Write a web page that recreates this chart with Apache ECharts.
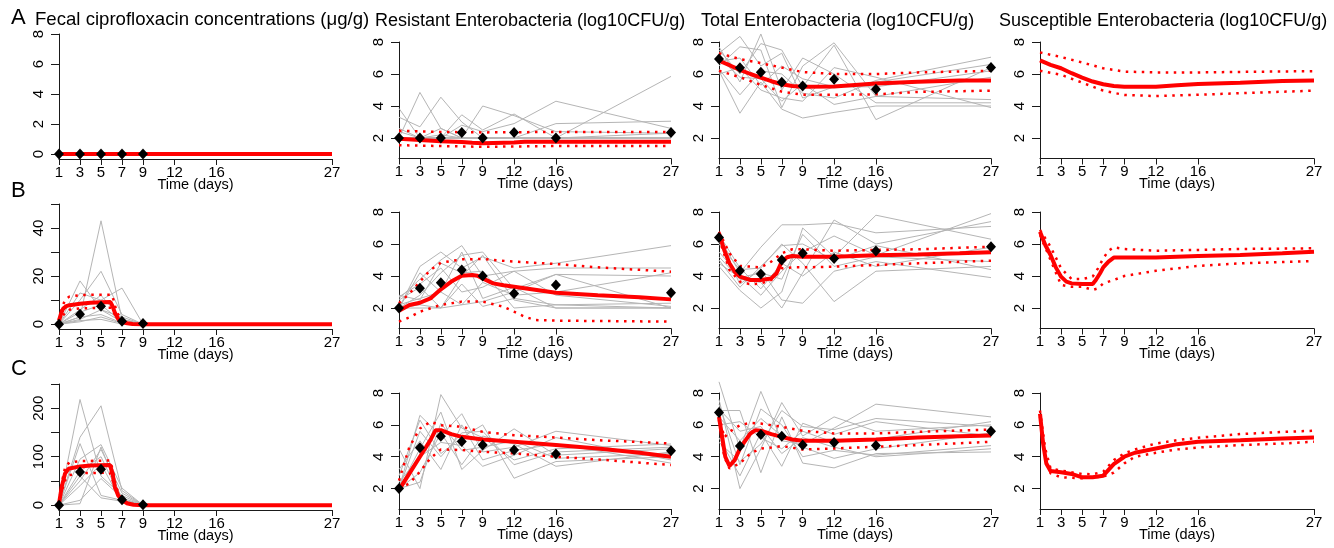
<!DOCTYPE html>
<html>
<head>
<meta charset="utf-8">
<script src="https://cdn.jsdelivr.net/npm/echarts@6/dist/echarts.min.js"></script>
<style>
html, body { margin: 0; padding: 0; background: #fff; }
#chart { width: 1334px; height: 548px; }
</style>
</head>
<body>
<div id="chart"></div>
<script>
// observation days
var dayObs = [1, 3, 5, 7, 9, 12, 16, 27];
var dayConc = [1, 3, 5, 7, 9];
var xTicks = [1, 3, 5, 7, 9, 12, 16, 27];

// y ticks / labels
var yTicksLog = [2, 4, 6, 8];
var yTicksConcA = [0, 2, 4, 6, 8];
var yTicksConcB = [0, 10, 20, 30, 40, 50];
var yLabelsConcB = [0, 20, 40];
var yTicksConcC = [0, 50, 100, 150, 200, 250];
var yLabelsConcC = [0, 100, 200];

// ---- row A ----
var concA_indiv = [
  [0, 0, 0, 0, 0], [0, 0, 0, 0, 0], [0, 0, 0, 0, 0], [0, 0, 0, 0, 0], [0, 0, 0, 0, 0],
  [0, 0, 0, 0, 0], [0, 0, 0, 0, 0], [0, 0, 0, 0, 0], [0, 0, 0, 0, 0], [0, 0, 0, 0, 0]
];
var concA_mean = [0, 0, 0, 0, 0];
var concA_pred = [[1, 0], [27, 0]];
var concA_up = [[1, 0], [27, 0]];
var concA_lo = [[1, 0], [27, 0]];

var resA_indiv = [
  [3.85, 2.0, 2.0, 2.0, 2.0, 2.0, 2.0, 2.0],
  [2.0, 4.85, 2.6, 2.0, 2.0, 2.0, 2.0, 2.0],
  [3.3, 2.7, 4.55, 3.0, 2.0, 2.0, 2.0, 2.0],
  [2.6, 2.0, 2.0, 3.45, 2.5, 3.5, 2.0, 2.3],
  [2.0, 2.0, 2.6, 2.0, 4.0, 3.4, 2.4, 2.3],
  [2.0, 2.0, 2.0, 2.8, 2.4, 2.9, 4.3, 2.6],
  [2.0, 2.0, 2.0, 2.0, 2.0, 2.0, 2.0, 5.85],
  [2.0, 2.0, 2.2, 2.0, 2.0, 2.0, 2.9, 3.05],
  [2.0, 2.0, 2.0, 2.0, 2.0, 2.0, 2.0, 2.0],
  [2.4, 2.0, 2.0, 2.0, 2.0, 2.0, 2.0, 2.0]
];
var resA_mean = [2.0, 2.0, 2.0, 2.35, 2.0, 2.35, 2.0, 2.35];
var resA_pred = [[1, 1.95], [3, 1.88], [5, 1.8], [7, 1.75], [8, 1.7], [9, 1.68], [12, 1.72], [13, 1.76], [27, 1.77]];
var resA_up = [[1, 2.45], [5, 2.38], [9, 2.35], [16, 2.38], [27, 2.38]];
var resA_lo = [[1, 1.55], [5, 1.5], [9, 1.45], [16, 1.5], [27, 1.5]];

var totA_indiv = [
  [7.3, 8.35, 6.5, 7.3, 4.5, 5.2, 5.5, 6.6],
  [6.2, 3.55, 5.5, 3.8, 3.25, 3.6, 4.0, 4.0],
  [7.7, 5.5, 8.5, 5.0, 7.0, 6.0, 4.2, 4.2],
  [6.5, 7.7, 7.5, 3.9, 6.5, 7.95, 4.6, 5.8],
  [7.5, 6.0, 7.9, 7.5, 5.2, 7.8, 3.15, 6.4],
  [6.3, 4.7, 6.2, 6.0, 4.8, 4.5, 5.6, 7.05],
  [6.8, 7.0, 5.3, 6.5, 5.7, 5.2, 5.2, 6.2],
  [7.0, 5.8, 5.7, 4.3, 5.4, 4.1, 4.6, 4.4],
  [6.0, 6.4, 5.0, 4.5, 4.3, 6.4, 5.8, 3.9]
];
var totA_mean = [6.93, 6.39, 6.11, 5.48, 5.25, 5.67, 5.04, 6.41];
var totA_pred = [[1, 6.83], [2, 6.55], [3, 6.26], [4, 6.0], [5, 5.78], [6, 5.55], [7, 5.36], [8, 5.25], [9, 5.2], [12, 5.22], [16, 5.4], [20, 5.52], [24, 5.6], [27, 5.6]];
var totA_up = [[1, 7.3], [3, 6.93], [5, 6.68], [7, 6.4], [9, 6.12], [12, 6.0], [16, 6.0], [20, 6.1], [27, 6.2]];
var totA_lo = [[1, 6.2], [3, 5.8], [5, 5.32], [7, 4.9], [9, 4.7], [12, 4.7], [16, 4.73], [20, 4.88], [27, 4.96]];

var susA_pred = [[1, 6.85], [2, 6.57], [3, 6.36], [4, 6.05], [5, 5.78], [6, 5.53], [7, 5.36], [8, 5.25], [9, 5.2], [12, 5.2], [14, 5.3], [16, 5.38], [20, 5.46], [24, 5.57], [27, 5.59]];
var susA_up = [[1, 7.35], [3, 7.06], [5, 6.72], [7, 6.36], [9, 6.15], [12, 6.1], [16, 6.1], [20, 6.13], [27, 6.18]];
var susA_lo = [[1, 6.2], [3, 5.95], [5, 5.46], [7, 4.96], [9, 4.69], [12, 4.62], [16, 4.7], [20, 4.8], [27, 4.96]];

// ---- row B ----
var concB_indiv = [
  [0, 3, 43, 2, 0],
  [0, 10, 22, 4, 0],
  [0, 18, 6, 3, 0],
  [0, 13, 10, 15, 0],
  [0, 5, 8, 1, 0],
  [0, 2, 6, 1, 0],
  [0, 3, 4, 0.5, 0],
  [0, 1, 3, 0.3, 0],
  [0, 6, 12, 2, 0],
  [0, 1.5, 2, 0, 0]
];
var concB_mean = [0, 4.15, 7.5, 1.25, 0.3];
var concB_pred = [[1, 1.5], [1.2, 4.5], [1.4, 6.5], [1.7, 7.5], [2, 7.9], [3, 8.5], [4, 8.9], [5, 9.1], [5.9, 9.2], [6.1, 7.5], [6.3, 5], [6.6, 2.4], [7, 1.0], [7.5, 0.4], [8, 0.1], [9, 0], [27, 0]];
var concB_up = [[1, 2], [1.3, 7], [1.6, 10.4], [2, 11.5], [3, 12.1], [5, 12.3], [6, 12.3], [6.2, 10], [6.5, 5], [7, 1.8], [7.5, 0.6], [8, 0.2], [9, 0], [27, 0]];
var concB_lo = [[1, 0.8], [1.3, 3], [1.6, 5], [2, 6], [3, 6.6], [5, 6.8], [6, 6.8], [6.2, 5.2], [6.5, 2.2], [7, 0.7], [7.5, 0.2], [8, 0], [27, 0]];

var resB_indiv = [
  [2.0, 4.6, 5.5, 4.5, 5.2, 4.5, 4.8, 5.9],
  [2.6, 3.8, 5.0, 5.9, 4.0, 4.3, 4.5, 4.5],
  [2.0, 2.8, 4.2, 5.3, 5.5, 3.2, 4.1, 2.0],
  [2.5, 3.3, 2.0, 3.5, 2.1, 2.6, 2.2, 2.0],
  [2.0, 4.2, 3.0, 2.2, 2.4, 3.0, 4.1, 4.0],
  [2.8, 2.5, 4.8, 4.2, 4.3, 2.0, 2.2, 2.3],
  [2.0, 2.2, 2.0, 4.0, 5.3, 2.5, 2.0, 2.0],
  [2.7, 3.5, 4.5, 3.0, 3.3, 4.3, 2.8, 2.1],
  [2.0, 2.0, 2.0, 2.2, 3.6, 2.8, 3.0, 4.2],
  [2.2, 2.6, 3.0, 5.5, 2.6, 3.3, 2.0, 2.0]
];
var resB_mean = [2.0, 3.23, 3.58, 4.38, 4.0, 2.9, 3.44, 2.96];
var resB_pred = [[1, 1.83], [2, 2.19], [3, 2.33], [4, 2.6], [5, 3.17], [6, 3.65], [7, 4.02], [8, 4.06], [8.5, 4.02], [9, 3.85], [10, 3.54], [11, 3.42], [12, 3.33], [16, 2.96], [20, 2.8], [24, 2.67], [27, 2.54]];
var resB_up = [[1, 2.3], [2, 2.9], [3, 3.65], [4, 4.38], [5, 4.83], [7, 5.04], [9, 5.06], [10, 5.0], [12, 4.9], [16, 4.75], [20, 4.54], [27, 4.27]];
var resB_lo = [[1, 1.15], [2, 1.42], [3, 1.77], [5, 2.19], [7, 2.4], [9, 2.4], [11, 2.08], [12, 1.77], [13, 1.46], [14, 1.25], [16, 1.21], [27, 1.15]];

var totB_indiv = [
  [6.4, 4.2, 5.8, 7.2, 7.2, 7.3, 6.7, 7.1],
  [5.2, 3.8, 3.6, 2.0, 4.2, 7.5, 6.0, 7.4],
  [4.6, 3.1, 2.0, 3.0, 7.0, 5.2, 7.8, 6.3],
  [6.0, 4.4, 4.5, 6.0, 4.8, 2.4, 4.3, 4.6],
  [5.5, 4.0, 2.8, 4.3, 5.5, 6.5, 5.3, 7.9],
  [6.2, 3.5, 4.4, 2.5, 2.3, 4.3, 4.9, 3.9],
  [5.0, 3.3, 4.6, 5.9, 6.0, 5.0, 5.9, 4.4],
  [6.6, 4.5, 3.2, 4.8, 4.0, 5.5, 4.6, 5.8],
  [4.8, 3.9, 4.2, 3.8, 6.6, 4.6, 5.2, 4.9]
];
var totB_mean = [6.4, 4.33, 4.13, 5.0, 5.42, 5.1, 5.56, 5.83];
var totB_pred = [[1, 6.67], [1.5, 5.63], [2, 4.8], [2.5, 4.27], [3, 3.96], [4, 3.75], [5, 3.75], [6, 3.85], [6.5, 4.17], [7, 4.9], [7.5, 5.17], [8, 5.25], [9, 5.21], [12, 5.21], [16, 5.29], [20, 5.35], [24, 5.42], [27, 5.48]];
var totB_up = [[1, 6.77], [2, 5.42], [3, 4.63], [5, 4.54], [6, 4.9], [7, 5.42], [8, 5.67], [9, 5.67], [12, 5.58], [16, 5.63], [20, 5.67], [27, 5.83]];
var totB_lo = [[1, 6.35], [2, 4.38], [3, 3.65], [4, 3.48], [5, 3.54], [6, 3.75], [7, 4.48], [8, 4.54], [9, 4.54], [12, 4.58], [16, 4.69], [20, 4.79], [27, 4.96]];

var susB_pred = [[1, 6.77], [1.5, 5.94], [2, 5.31], [2.5, 4.54], [3, 3.96], [3.5, 3.65], [4, 3.54], [5, 3.5], [6, 3.5], [6.3, 3.75], [6.7, 4.17], [7, 4.54], [7.5, 4.9], [8, 5.15], [9, 5.15], [12, 5.15], [14, 5.21], [16, 5.25], [20, 5.31], [24, 5.42], [27, 5.52]];
var susB_up = [[1, 6.88], [2, 5.83], [3, 4.48], [4, 3.81], [5, 3.81], [6, 3.96], [6.5, 4.48], [7, 5.1], [7.5, 5.58], [8, 5.79], [9, 5.69], [12, 5.58], [16, 5.63], [20, 5.69], [27, 5.73]];
var susB_lo = [[1, 6.56], [2, 5.0], [3, 3.44], [4, 3.33], [5, 3.33], [6, 3.13], [6.5, 3.23], [7, 3.54], [8, 3.75], [9, 4.0], [12, 4.33], [16, 4.63], [20, 4.79], [27, 4.94]];

// ---- row C ----
var concC_indiv = [
  [0, 218, 60, 20, 0],
  [0, 140, 205, 30, 0],
  [0, 127, 20, 10, 0],
  [0, 95, 125, 35, 0],
  [0, 50, 115, 25, 0],
  [0, 10, 55, 15, 0],
  [0, 70, 100, 10, 0],
  [0, 3, 120, 12, 0],
  [0, 40, 85, 5, 0],
  [0, 60, 15, 8, 0]
];
var concC_mean = [0, 68.5, 74, 11, 1];
var concC_pred = [[1, 3], [1.25, 37], [1.57, 65], [1.9, 75], [3, 80], [4, 82], [5.85, 83], [6.1, 65], [6.33, 37], [6.64, 20], [7, 11], [7.45, 4], [8.1, 0.7], [9, 0], [27, 0]];
var concC_up = [[1, 5], [1.25, 45], [1.6, 80], [2, 88], [3, 91], [5.85, 92], [6.1, 75], [6.4, 40], [6.8, 18], [7.2, 8], [8, 1], [9, 0], [27, 0]];
var concC_lo = [[1, 1], [1.25, 28], [1.6, 52], [2, 62], [3, 66], [5.85, 67], [6.1, 52], [6.4, 28], [6.8, 12], [7.2, 5], [8, 0.3], [9, 0], [27, 0]];

var resC_indiv = [
  [2.0, 6.6, 5.3, 6.7, 4.3, 4.6, 5.6, 4.7],
  [4.5, 2.0, 7.9, 5.8, 5.2, 3.8, 4.5, 4.8],
  [2.0, 4.5, 6.8, 3.2, 4.4, 5.75, 4.1, 4.5],
  [2.8, 6.3, 4.2, 5.2, 6.0, 2.65, 3.7, 4.0],
  [2.0, 3.0, 5.5, 3.5, 5.3, 4.8, 3.4, 4.3],
  [3.2, 5.0, 3.2, 6.0, 3.8, 4.4, 4.8, 3.6],
  [2.0, 2.4, 6.1, 4.4, 4.6, 5.0, 3.9, 4.2],
  [2.4, 4.0, 4.9, 4.7, 3.4, 4.1, 5.2, 3.8],
  [2.0, 5.6, 4.0, 5.5, 5.6, 3.5, 4.3, 4.6]
];
var resC_mean = [2.0, 4.56, 5.29, 4.96, 4.73, 4.42, 4.17, 4.38];
var resC_pred = [[1, 1.92], [2, 2.96], [3, 4.0], [4, 5.04], [4.5, 5.67], [5, 5.67], [6, 5.42], [7, 5.25], [9, 5.08], [12, 4.94], [16, 4.73], [20, 4.52], [24, 4.25], [27, 4.0]];
var resC_up = [[1, 2.5], [2, 4.63], [3, 5.77], [4, 6.19], [5, 5.98], [7, 5.88], [9, 5.56], [12, 5.35], [16, 5.21], [20, 5.04], [27, 4.83]];
var resC_lo = [[1, 2.0], [2, 2.33], [3, 3.06], [4, 3.9], [5, 4.46], [7, 4.42], [9, 4.31], [12, 4.21], [16, 4.0], [20, 3.83], [27, 3.48]];

var totC_indiv = [
  [8.7, 4.5, 8.1, 5.0, 4.8, 5.8, 7.3, 6.5],
  [7.6, 2.0, 4.5, 7.4, 5.3, 6.5, 5.6, 6.0],
  [6.9, 6.9, 3.0, 6.5, 3.6, 3.3, 4.2, 4.3],
  [5.2, 2.8, 5.5, 3.4, 6.1, 5.4, 6.2, 5.3],
  [7.3, 3.5, 7.0, 6.0, 4.0, 4.4, 4.1, 4.7],
  [6.0, 6.2, 5.2, 4.5, 5.6, 4.9, 5.1, 6.2],
  [6.5, 5.0, 6.4, 5.3, 4.6, 3.9, 4.5, 5.5],
  [4.9, 3.7, 4.8, 6.9, 5.9, 5.7, 6.4, 5.9],
  [7.0, 5.6, 5.9, 4.2, 5.2, 4.6, 4.0, 4.5]
];
var totC_mean = [6.77, 4.67, 5.4, 5.29, 4.73, 4.9, 4.71, 5.6];
var totC_pred = [[1, 6.5], [1.3, 5.25], [1.6, 4.0], [2, 3.42], [2.5, 3.79], [3, 4.52], [4, 5.46], [4.5, 5.67], [5, 5.63], [6, 5.42], [7, 5.25], [8, 5.08], [9, 5.0], [12, 5.0], [16, 5.08], [20, 5.21], [24, 5.29], [27, 5.33]];
var totC_up = [[1, 6.6], [1.5, 5.2], [2, 5.56], [3, 5.98], [4, 6.13], [5, 6.08], [6, 5.98], [7, 5.88], [9, 5.63], [12, 5.46], [16, 5.46], [20, 5.56], [27, 5.71]];
var totC_lo = [[1, 6.3], [1.5, 4.0], [2, 3.27], [3, 3.58], [4, 4.21], [5, 4.52], [6, 4.58], [7, 4.67], [9, 4.46], [12, 4.52], [16, 4.63], [20, 4.73], [27, 4.94]];

var susC_pred = [[1, 6.7], [1.3, 4.8], [1.6, 3.58], [2, 3.1], [3, 3.02], [4, 2.92], [5, 2.71], [6, 2.71], [7, 2.81], [8, 3.54], [9, 4.0], [10, 4.25], [12, 4.52], [14, 4.79], [16, 4.94], [20, 5.04], [24, 5.15], [27, 5.21]];
var susC_up = [[1, 6.9], [1.5, 4.5], [2, 3.27], [3, 3.13], [5, 2.92], [6, 2.9], [7, 3.06], [8, 3.79], [9, 4.21], [10, 4.46], [12, 4.83], [14, 5.04], [16, 5.19], [20, 5.42], [24, 5.56], [27, 5.63]];
var susC_lo = [[1, 6.5], [1.5, 4.0], [2, 2.96], [3, 2.71], [5, 2.65], [6, 2.71], [7, 2.75], [8, 3.0], [9, 3.58], [10, 4.0], [12, 4.25], [14, 4.46], [16, 4.58], [20, 4.73], [24, 4.83], [27, 4.94]];

var headers = [
  'Fecal ciprofloxacin concentrations (\u03bcg/g)',
  'Resistant Enterobacteria (log10CFU/g)',
  'Total Enterobacteria (log10CFU/g)',
  'Susceptible Enterobacteria (log10CFU/g)'
];
var rowLetters = ['A', 'B', 'C'];

// layout (pixels)
var colLeft = [59, 399, 719, 1040];
var colWidth = [273, 272, 272, 274];
var concTop = [34, 204, 384], concHeight = [125, 125, 126];
var logTop = [42, 212, 393], logHeight = [116.5, 116.5, 116];

var panels = [
  { r: 0, c: 0, min: -0.33, max: 8, ticks: yTicksConcA, labels: yTicksConcA, days: dayConc, indiv: concA_indiv, mean: concA_mean, pred: concA_pred, up: concA_up, lo: concA_lo },
  { r: 0, c: 1, indiv: resA_indiv, mean: resA_mean, pred: resA_pred, up: resA_up, lo: resA_lo },
  { r: 0, c: 2, indiv: totA_indiv, mean: totA_mean, pred: totA_pred, up: totA_up, lo: totA_lo },
  { r: 0, c: 3, pred: susA_pred, up: susA_up, lo: susA_lo },
  { r: 1, c: 0, min: -2, max: 50, ticks: yTicksConcB, labels: yLabelsConcB, days: dayConc, indiv: concB_indiv, mean: concB_mean, pred: concB_pred, up: concB_up, lo: concB_lo },
  { r: 1, c: 1, indiv: resB_indiv, mean: resB_mean, pred: resB_pred, up: resB_up, lo: resB_lo },
  { r: 1, c: 2, indiv: totB_indiv, mean: totB_mean, pred: totB_pred, up: totB_up, lo: totB_lo },
  { r: 1, c: 3, pred: susB_pred, up: susB_up, lo: susB_lo },
  { r: 2, c: 0, min: -10, max: 250, ticks: yTicksConcC, labels: yLabelsConcC, days: dayConc, indiv: concC_indiv, mean: concC_mean, pred: concC_pred, up: concC_up, lo: concC_lo },
  { r: 2, c: 1, indiv: resC_indiv, mean: resC_mean, pred: resC_pred, up: resC_up, lo: resC_lo },
  { r: 2, c: 2, indiv: totC_indiv, mean: totC_mean, pred: totC_pred, up: totC_up, lo: totC_lo },
  { r: 2, c: 3, pred: susC_pred, up: susC_up, lo: susC_lo }
];

var font = 'Arial, "Liberation Sans", Helvetica, sans-serif';
var axisColor = '#1a1a1a';
var grids = [], xAxes = [], yAxes = [], series = [];

panels.forEach(function (p, i) {
  var isConc = p.c === 0;
  var yMin = p.min !== undefined ? p.min : 0.72;
  var yMax = p.max !== undefined ? p.max : 8;
  var yIdx = 2 * i;
  grids.push({
    left: colLeft[p.c],
    top: isConc ? concTop[p.r] : logTop[p.r],
    width: colWidth[p.c],
    height: isConc ? concHeight[p.r] : logHeight[p.r],
    containLabel: false,
    outerBoundsMode: 'none'
  });
  xAxes.push({
    gridIndex: i, type: 'value', min: 1, max: 27,
    axisLine: { show: true, onZero: false, lineStyle: { color: axisColor, width: 1 } },
    axisTick: { show: true, length: 6, customValues: xTicks, lineStyle: { color: axisColor } },
    axisLabel: { customValues: xTicks, fontSize: 15, fontFamily: font, color: '#000', margin: 6, hideOverlap: false },
    splitLine: { show: false },
    name: 'Time (days)', nameLocation: 'middle', nameGap: 18, nameMoveOverlap: false,
    nameTextStyle: { fontSize: 14.5, fontFamily: font, color: '#000', verticalAlign: 'top' }
  });
  // axis line + ticks
  yAxes.push({
    gridIndex: i, type: 'value', min: yMin, max: yMax,
    axisLine: { show: true, onZero: false, lineStyle: { color: axisColor, width: 1 } },
    axisTick: { show: true, length: 8, customValues: p.ticks || yTicksLog, lineStyle: { color: axisColor } },
    axisLabel: { show: false },
    splitLine: { show: false }
  });
  // tick labels only, shifted a little further left
  yAxes.push({
    gridIndex: i, type: 'value', min: yMin, max: yMax, position: 'left', offset: 5,
    axisLine: { show: false }, axisTick: { show: false },
    axisLabel: { customValues: p.labels || yTicksLog, rotate: 90, fontSize: 15, fontFamily: font, color: '#000', hideOverlap: false },
    splitLine: { show: false }
  });
  var days = p.days || dayObs;
  (p.indiv || []).forEach(function (row) {
    series.push({
      type: 'line', xAxisIndex: i, yAxisIndex: yIdx, silent: true, clip: false, z: 1,
      showSymbol: false, symbol: 'none',
      lineStyle: { color: '#b5b5b5', width: 1 },
      data: row.map(function (v, k) { return [days[k], v]; })
    });
  });
  [p.up, p.lo].forEach(function (band) {
    series.push({
      type: 'line', xAxisIndex: i, yAxisIndex: yIdx, silent: true, clip: false, z: 2,
      showSymbol: false, symbol: 'none',
      lineStyle: { color: '#ff0000', width: 2.5, type: [2.5, 5.5] },
      data: band
    });
  });
  series.push({
    type: 'line', xAxisIndex: i, yAxisIndex: yIdx, silent: true, clip: false, z: 3,
    showSymbol: false, symbol: 'none',
    lineStyle: { color: '#ff0000', width: 4 },
    data: p.pred
  });
  if (p.mean) {
    series.push({
      type: 'scatter', xAxisIndex: i, yAxisIndex: yIdx, silent: true, z: 4,
      symbol: 'diamond', symbolSize: [10, 11],
      itemStyle: { color: '#000', opacity: 1 },
      data: p.mean.map(function (v, k) { return [days[k], v]; })
    });
  }
});

var titles = [];
var titleLeft = [35, 375, 701, 999];
var titleTop = [10, 12, 12, 12];
headers.forEach(function (h, k) {
  titles.push({ text: h, left: titleLeft[k], top: titleTop[k], padding: 0,
    textStyle: { fontSize: k === 0 ? 18.6 : 18, fontWeight: 'normal', color: '#000', fontFamily: font } });
});
var letterTop = [7, 180, 358];
rowLetters.forEach(function (t, k) {
  titles.push({ text: t, left: 11, top: letterTop[k], padding: 0,
    textStyle: { fontSize: 22, fontWeight: 'normal', color: '#000', fontFamily: font } });
});

var chart = echarts.init(document.getElementById('chart'));
chart.setOption({
  backgroundColor: '#fff',
  animation: false,
  title: titles,
  grid: grids,
  xAxis: xAxes,
  yAxis: yAxes,
  series: series
});
</script>
</body>
</html>
